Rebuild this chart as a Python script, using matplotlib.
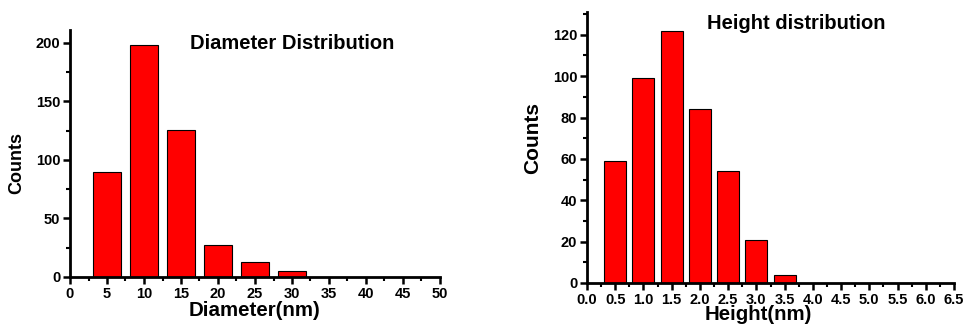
import matplotlib
matplotlib.use('Agg')
import matplotlib.pyplot as plt
from matplotlib.ticker import MultipleLocator

plt.rcParams['font.family'] = ['Liberation Sans', 'DejaVu Sans']
plt.rcParams['font.weight'] = 'bold'

# 直径分布
diam_centers = [5, 10, 15, 20, 25, 30]
diam_counts = [90, 198, 126, 27, 13, 5]
# 高度分布
height_centers = [0.5, 1.0, 1.5, 2.0, 2.5, 3.0, 3.5]
height_counts = [59, 99, 122, 84, 54, 21, 4]

W, H = 965, 332
fig = plt.figure(figsize=(W / 100, H / 100), dpi=100)


def px_axes(x0, x1, y0, y1):
    # 像素坐标 -> figure 坐标
    return fig.add_axes([x0 / W, 1 - y1 / H, (x1 - x0) / W, (y1 - y0) / H])


def style(ax):
    for s in ['top', 'right']:
        ax.spines[s].set_visible(False)
    for s in ['left', 'bottom']:
        ax.spines[s].set_linewidth(2)
    ax.tick_params(which='major', direction='out', length=5, width=1.8, labelsize=10.5, pad=2)
    ax.tick_params(which='minor', direction='out', length=3, width=1.5)
    for lab in ax.get_xticklabels() + ax.get_yticklabels():
        lab.set_fontweight('bold')


ax1 = px_axes(70, 440, 30, 277)
ax1.bar(diam_centers, diam_counts, width=3.9, color='#ff0000', edgecolor='black', linewidth=0.8)
ax1.set_xlim(0, 50)
ax1.set_ylim(0, 211)
ax1.xaxis.set_major_locator(MultipleLocator(5))
ax1.xaxis.set_minor_locator(MultipleLocator(2.5))
ax1.yaxis.set_major_locator(MultipleLocator(50))
ax1.yaxis.set_minor_locator(MultipleLocator(25))
style(ax1)
ax1.text(0.601, 0.947, 'Diameter Distribution', transform=ax1.transAxes,
         ha='center', va='center', fontsize=14.5, fontweight='bold')
fig.text(254 / W, 1 - 310 / H, 'Diameter(nm)', ha='center', va='center', fontsize=14.8, fontweight='bold')
fig.text(17 / W, 1 - 163 / H, 'Counts', ha='center', va='center', rotation=90, fontsize=13, fontweight='bold')

ax2 = px_axes(587, 954, 12, 283)
ax2.bar(height_centers, height_counts, width=0.39, color='#ff0000', edgecolor='black', linewidth=0.8)
ax2.set_xlim(0, 6.5)
ax2.set_ylim(0, 131)
ax2.xaxis.set_major_locator(MultipleLocator(0.5))
ax2.xaxis.set_minor_locator(MultipleLocator(0.25))
ax2.yaxis.set_major_locator(MultipleLocator(20))
ax2.yaxis.set_minor_locator(MultipleLocator(10))
ax2.xaxis.set_major_formatter(matplotlib.ticker.FormatStrFormatter('%.1f'))
style(ax2)
ax2.text(0.571, 0.957, 'Height distribution', transform=ax2.transAxes,
         ha='center', va='center', fontsize=14.5, fontweight='bold')
fig.text(758 / W, 1 - 315 / H, 'Height(nm)', ha='center', va='center', fontsize=14.7, fontweight='bold')
fig.text(533 / W, 1 - 138 / H, 'Counts', ha='center', va='center', rotation=90, fontsize=15, fontweight='bold')

fig.savefig('out.png', dpi=100)
